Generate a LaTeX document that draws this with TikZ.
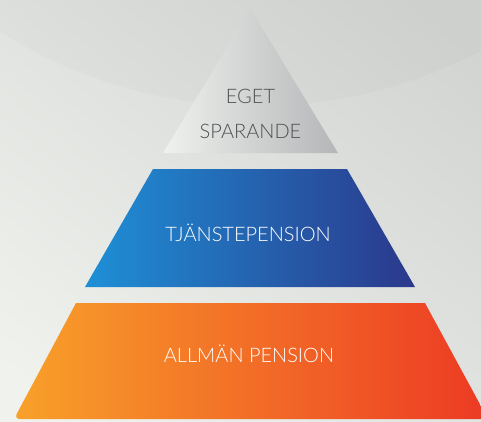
\documentclass[tikz,border=0pt]{standalone}
\usepackage{fontspec}
\IfFontExistsTF{Lato Light}{\setmainfont{Lato Light}}{\setmainfont{Lato}}
\usetikzlibrary{positioning}
\definecolor{bgdark}{HTML}{D2D4D2}
\definecolor{bglight}{HTML}{EFF2ED}
\definecolor{greyL}{HTML}{EFF1EE}
\definecolor{greyR}{HTML}{B4B6B8}
\definecolor{greyText}{HTML}{4E4F50}
\definecolor{blueL}{HTML}{1E90D6}
\definecolor{blueM}{HTML}{2170B6}
\definecolor{blueR}{HTML}{2B388B}
\definecolor{orangeL}{HTML}{F8A12A}
\definecolor{orangeM}{HTML}{F47A24}
\definecolor{orangeR}{HTML}{EC3A24}

\begin{document}
\begin{tikzpicture}[x=1pt,y=-1pt,
  levelText/.style={font=\fontsize{20}{24}\selectfont,inner sep=0pt,anchor=base}]
  \useasboundingbox (0,0) rectangle (481,421);
  \clip (0,0) rectangle (481,421);
  % --- bakgrund ---
  \shade[top color=bgdark,bottom color=bglight,shading angle=-40] (-50,-50) rectangle (531,471);
  \fill[black,opacity=0.015] (257,-374) circle (480pt);
  % --- eget sparande ---
  \shade[left color=greyL,right color=greyR]
    (163,153) -- (338,153) [rounded corners=4pt]-- (250.5,9) [sharp corners]-- cycle;
  \node[levelText,text=greyText] (eget) at (250.5,103) {EGET};
  \node[levelText,text=greyText] (sparande) at (250.5,138) {SPARANDE};
  % --- tjänstepension ---
  \shade[left color=blueL,middle color=blueM,right color=blueR]
    (153,169) -- (347,169) -- (415,287) -- (85,287) -- cycle;
  \node[levelText,text=white] (tjanste) at (248,241) {TJÄNSTEPENSION};
  % --- allmän pension ---
  \shade[left color=orangeL,middle color=orangeM,right color=orangeR]
    (76,303) -- (425,303) -- (488,419) [rounded corners=6pt]-- (14,419) [sharp corners]-- cycle;
  \node[levelText,text=white] (allman) at (249,362) {ALLMÄN PENSION};
\end{tikzpicture}
\end{document}
